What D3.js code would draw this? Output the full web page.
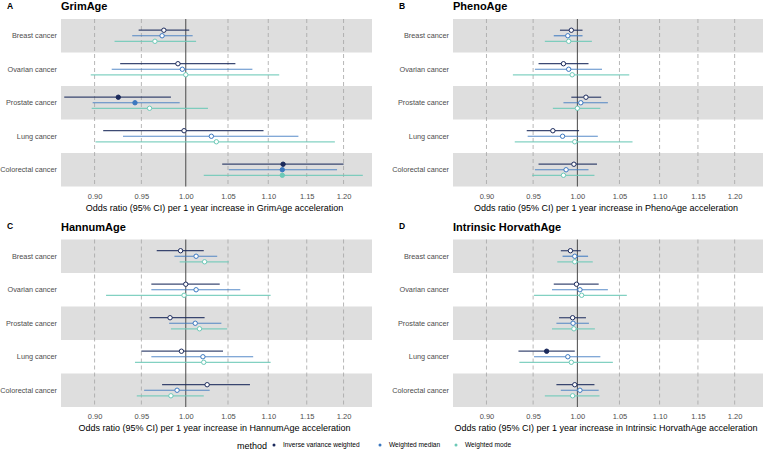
<!DOCTYPE html>
<html><head><meta charset="utf-8">
<script src="https://cdn.jsdelivr.net/npm/d3@7"></script>
<style>body{margin:0;background:#fff}svg{display:block;font-family:"Liberation Sans",Arial,Helvetica,sans-serif}</style>
</head><body><svg id="c" width="764" height="452"></svg>
<script>
const categories = ["Breast cancer","Ovarian cancer","Prostate cancer","Lung cancer","Colorectal cancer"];
const methods = ["Inverse variance weighted","Weighted median","Weighted mode"];
const methodColors = ["#1b2a5c","#3b78c0","#6cc9b7"];
const panelTitles = ["GrimAge","PhenoAge","HannumAge","Intrinsic HorvathAge"];
const panelTags = ["A","B","C","D"];
const xTicks = [0.90,0.95,1.00,1.05,1.10,1.15,1.20];
const xLimits = [0.88,1.22];

// rows: category order, within each: IVW, weighted median, weighted mode -> [OR, lower, upper]
const grimAge = [
  [0.975,0.947,1.004],[0.973,0.940,1.008],[0.965,0.921,1.012],
  [0.991,0.927,1.059],[0.996,0.918,1.080],[1.000,0.896,1.114],
  [0.925,0.869,0.983],[0.943,0.898,0.993],[0.959,0.897,1.026],
  [0.998,0.909,1.094],[1.030,0.930,1.139],[1.036,0.901,1.188],
  [1.119,1.043,1.200],[1.118,1.051,1.191],[1.118,1.021,1.227]
];
const phenoAge = [
  [0.993,0.980,1.006],[0.989,0.973,1.006],[0.990,0.963,1.017],
  [0.984,0.956,1.013],[0.990,0.952,1.029],[0.994,0.928,1.062],
  [1.010,0.993,1.028],[1.004,0.984,1.036],[1.000,0.972,1.027],
  [0.972,0.943,1.002],[0.983,0.944,1.024],[0.997,0.930,1.066],
  [0.996,0.956,1.023],[0.987,0.952,1.013],[0.984,0.949,1.020]
];
const hannumAge = [
  [0.994,0.967,1.021],[1.012,0.987,1.037],[1.022,0.993,1.051],
  [1.000,0.961,1.040],[1.012,0.961,1.065],[0.998,0.912,1.103],
  [0.982,0.959,1.022],[1.011,0.981,1.042],[1.016,0.983,1.049],
  [0.995,0.950,1.044],[1.020,0.961,1.081],[1.021,0.943,1.103],
  [1.025,0.973,1.077],[0.990,0.953,1.028],[0.983,0.945,1.021]
];
const horvathAge = [
  [0.992,0.981,1.004],[0.997,0.983,1.0125],[0.997,0.977,1.018],
  [0.999,0.973,1.025],[1.003,0.971,1.036],[1.005,0.951,1.059],
  [0.9945,0.979,1.010],[0.995,0.976,1.0135],[0.996,0.971,1.0205],
  [0.965,0.934,0.997],[0.989,0.951,1.027],[0.993,0.935,1.042],
  [0.997,0.976,1.020],[1.003,0.981,1.025],[0.9945,0.963,1.026]
];
const panelData = [grimAge, phenoAge, hannumAge, horvathAge];

const svg = d3.select("#c");
const font = '"Liberation Sans",Arial,Helvetica,sans-serif';
const layout = [
  {x0:61, x1:372, y0:19, y1:186.5},
  {x0:453, x1:763, y0:19, y1:186.5},
  {x0:61, x1:372, y0:239.5, y1:407},
  {x0:453, x1:763, y0:239.5, y1:407}
];

panelData.forEach((data, p) => {
  const L = layout[p];
  const lg0 = Math.log(xLimits[0]), lg1 = Math.log(xLimits[1]), ex = (lg1-lg0)*0.05;
  const x = d3.scaleLog().domain([Math.exp(lg0-ex), Math.exp(lg1+ex)]).range([L.x0, L.x1]);
  const y = d3.scaleBand().domain(categories).range([L.y0, L.y1]).padding(0);
  const dodge = d3.scalePoint().domain(methods).range([-y.bandwidth()*0.165, y.bandwidth()*0.165]);
  const g = svg.append("g");

  // bands
  g.selectAll("rect.band").data(categories.filter((c,i)=>i%2===0)).join("rect")
    .attr("x", L.x0).attr("width", L.x1-L.x0)
    .attr("y", d=>y(d)).attr("height", y.bandwidth())
    .attr("fill", "#dedede");

  // grid
  g.selectAll("line.grid").data(xTicks.filter(t=>t!==1)).join("line")
    .attr("x1", d=>x(d)).attr("x2", d=>x(d)).attr("y1", L.y0).attr("y2", L.y1)
    .attr("stroke", "#a6a6a6").attr("stroke-width", 0.8).attr("stroke-dasharray", "4,3");
  g.append("line").attr("x1", x(1)).attr("x2", x(1)).attr("y1", L.y0).attr("y2", L.y1)
    .attr("stroke", "#4a4a4a").attr("stroke-width", 1);

  // x axis
  const xa = g.append("g").attr("transform", `translate(0,${L.y1+4})`)
    .call(d3.axisBottom(x).tickValues(xTicks).tickFormat(d3.format(".2f")).tickSize(0).tickPadding(3));
  xa.select(".domain").remove();
  xa.selectAll("text").attr("fill","#4d4d4d").style("font-size","7.5px").style("font-family", font);

  // y axis
  const ya = g.append("g").attr("transform", `translate(${L.x0-4},0)`)
    .call(d3.axisLeft(y).tickSize(0).tickPadding(0));
  ya.select(".domain").remove();
  ya.selectAll("text").attr("fill","#4d4d4d").style("font-size","7.3px").style("font-family", font);

  const rows = data.map((r,i) => ({cat: categories[Math.floor(i/3)], m: i%3, or: r[0], lo: r[1], hi: r[2]}));
  g.selectAll("line.ci").data(rows).join("line")
    .attr("x1", d=>x(d.lo)).attr("x2", d=>x(d.hi))
    .attr("y1", d=>y(d.cat)+y.bandwidth()/2+dodge(methods[d.m]))
    .attr("y2", d=>y(d.cat)+y.bandwidth()/2+dodge(methods[d.m]))
    .attr("stroke", d=>methodColors[d.m]).attr("stroke-width", 1.2).attr("stroke-opacity", 0.85);
  g.selectAll("circle.pt").data(rows).join("circle")
    .attr("cx", d=>x(d.or)).attr("cy", d=>y(d.cat)+y.bandwidth()/2+dodge(methods[d.m]))
    .attr("r", 2.2).attr("stroke", d=>methodColors[d.m]).attr("stroke-width", 1)
    .attr("fill", d=> (d.lo>1 || d.hi<1) ? methodColors[d.m] : "#fff");

  // titles
  g.append("text").attr("x", L.x0).attr("y", L.y0-9).text(panelTitles[p])
    .attr("font-weight","bold").style("font-size","11px").attr("fill","#000");
  g.append("text").attr("x", L.x0 === 61 ? 7 : 399).attr("y", L.y0-10.5).text(panelTags[p])
    .attr("font-weight","bold").style("font-size","8.5px").attr("fill","#000");
  g.append("text").attr("x", (L.x0+L.x1)/2-2).attr("y", L.y1+24).attr("text-anchor","middle")
    .text(`Odds ratio (95% CI) per 1 year increase in ${panelTitles[p]} acceleration`)
    .style("font-size","9px").attr("fill","#000");
});

// legend
const leg = svg.append("g").attr("transform","translate(0,445)");
leg.append("text").attr("x",237).attr("y",3.5).text("method").style("font-size","9px").attr("fill","#000");
const legX = [274, 380, 456];
methods.forEach((m,i)=>{
  leg.append("circle").attr("cx",legX[i]).attr("cy",0).attr("r",1.5).attr("fill",methodColors[i]);
  leg.append("text").attr("x",legX[i]+9).attr("y",2.3).text(m).style("font-size","6.6px").attr("fill","#000");
});
</script></body></html>
